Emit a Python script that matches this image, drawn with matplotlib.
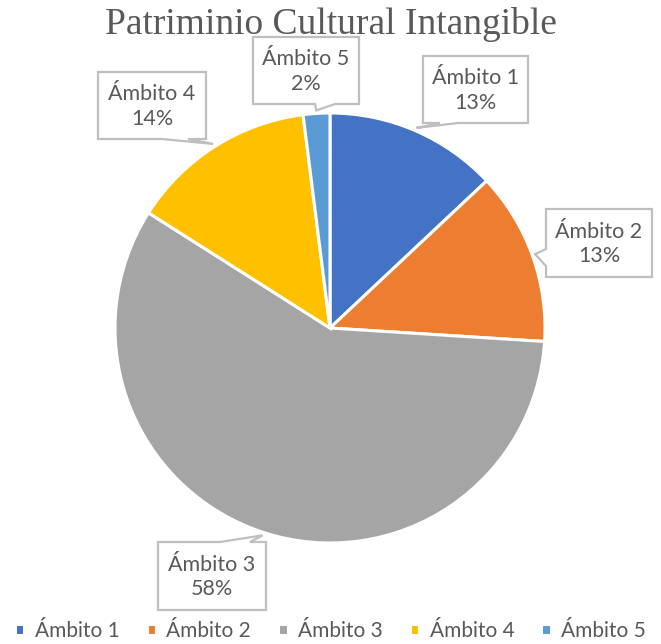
import numpy as np
import matplotlib
matplotlib.use("Agg")
import matplotlib.pyplot as plt
from matplotlib.patches import Polygon

# ------------------------------------------------------------
# Datos
# ------------------------------------------------------------
categorias = ["Ámbito 1", "Ámbito 2", "Ámbito 3", "Ámbito 4", "Ámbito 5"]
porcentajes = [13, 13, 58, 14, 2]
colores = ["#4472C4", "#ED7D31", "#A5A5A5", "#FFC000", "#5B9BD5"]

# Cajas de las etiquetas (x0, y_sup, x1, y_inf) en pixeles desde arriba,
# lado de donde sale la punta y tramo de la base de la punta
cajas = [
    ((423, 56, 528, 123), "bottom", (440, 458)),
    ((546, 209, 652, 277), "left", (249, 266)),
    ((158, 542, 266, 610), "top", (220, 250)),
    ((98, 72, 206, 139), "bottom", (162, 188)),
    ((253, 37, 359, 104), "bottom", (315, 335)),
]

ANCHO, ALTO = 661, 644
centro = (330, 328)      # pixeles desde arriba
radio = 215
gris_texto = "#595959"
fuente = "Lato"

fig = plt.figure(figsize=(ANCHO / 100, ALTO / 100), dpi=100)
ax = fig.add_axes([0, 0, 1, 1])

cx, cy = centro[0], ALTO - centro[1]
wedges, _ = ax.pie(
    porcentajes,
    colors=colores,
    startangle=90,
    counterclock=False,
    center=(cx, cy),
    radius=radio,
    wedgeprops=dict(edgecolor="white", linewidth=2.2),
)
ax.set_xlim(0, ANCHO)
ax.set_ylim(0, ALTO)
ax.set_aspect("equal")
ax.axis("off")


def py(y):
    return ALTO - y


# Etiquetas tipo globo con punta hacia cada sector
for w, cat, pct, (caja, lado, base) in zip(wedges, categorias, porcentajes, cajas):
    ang = np.deg2rad((w.theta1 + w.theta2) / 2)
    tx = cx + (radio + 3) * np.cos(ang)
    ty = ALTO - (cy + (radio + 3) * np.sin(ang))
    x0, y0, x1, y1 = caja
    a, b = base
    pts = [(x0, y0)]
    if lado == "top":
        pts += [(a, y0), (tx, ty), (b, y0)]
    pts += [(x1, y0), (x1, y1)]
    if lado == "bottom":
        pts += [(b, y1), (tx, ty), (a, y1)]
    pts += [(x0, y1)]
    if lado == "left":
        pts += [(x0, b), (tx, ty), (x0, a)]
    poly = Polygon([(x, py(y)) for x, y in pts], closed=True,
                   facecolor="white", edgecolor="#BFBFBF", linewidth=1.6,
                   joinstyle="miter", zorder=5)
    ax.add_patch(poly)
    ax.text((x0 + x1) / 2, py((y0 + y1) / 2 + 1), f"{cat}\n{pct}%",
            ha="center", va="center", fontsize=15.5, color=gris_texto,
            family=fuente, linespacing=1.3, zorder=6)

# Titulo
ax.text(ANCHO / 2, py(24), "Patriminio Cultural Intangible",
        ha="center", va="center", fontsize=27, color=gris_texto,
        family="Liberation Serif")

# Leyenda
ax.legend(wedges, categorias, loc="center", bbox_to_anchor=(0.5, 1 - 631 / ALTO),
          ncol=5, frameon=False, handlelength=0.45, handleheight=0.45,
          handletextpad=0.5, columnspacing=1.3,
          prop=dict(family=fuente, size=15), labelcolor=gris_texto)

fig.savefig("out.png", dpi=100)
